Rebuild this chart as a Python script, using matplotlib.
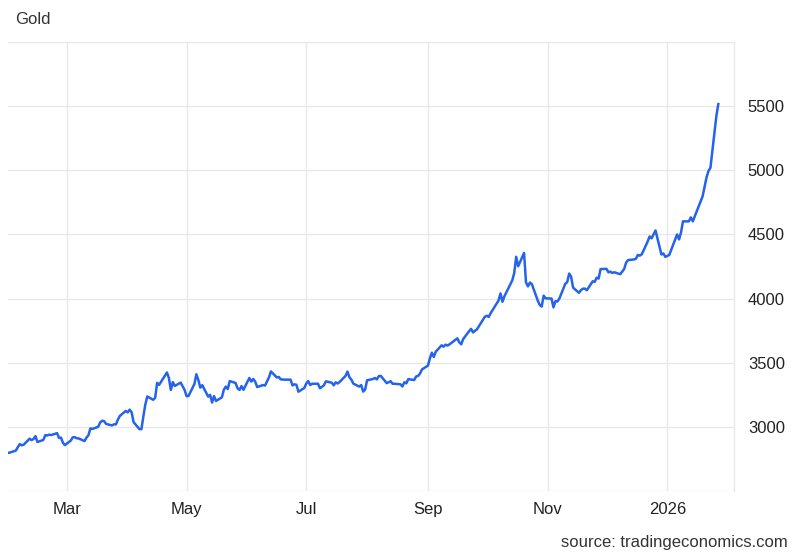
import pandas as pd
import matplotlib.pyplot as plt
import matplotlib.dates as mdates

plt.rcParams['font.family'] = ['Liberation Sans', 'DejaVu Sans']

# gold price, USD/t.oz
dates = [
    "2025-01-30", "2025-01-31", "2025-02-03", "2025-02-04", "2025-02-05", "2025-02-06", "2025-02-07",
    "2025-02-10", "2025-02-11", "2025-02-12", "2025-02-13", "2025-02-14", "2025-02-17", "2025-02-18",
    "2025-02-19", "2025-02-20", "2025-02-21", "2025-02-24", "2025-02-25", "2025-02-26", "2025-02-27",
    "2025-02-28", "2025-03-03", "2025-03-04", "2025-03-05", "2025-03-06", "2025-03-07", "2025-03-10",
    "2025-03-11", "2025-03-12", "2025-03-13", "2025-03-14", "2025-03-17", "2025-03-18", "2025-03-19",
    "2025-03-20", "2025-03-21", "2025-03-24", "2025-03-25", "2025-03-26", "2025-03-27", "2025-03-28",
    "2025-03-31", "2025-04-01", "2025-04-02", "2025-04-03", "2025-04-04", "2025-04-07", "2025-04-08",
    "2025-04-09", "2025-04-10", "2025-04-11", "2025-04-14", "2025-04-15", "2025-04-16", "2025-04-17",
    "2025-04-21", "2025-04-22", "2025-04-23", "2025-04-24", "2025-04-25", "2025-04-28", "2025-04-29",
    "2025-04-30", "2025-05-01", "2025-05-02", "2025-05-05", "2025-05-06", "2025-05-07", "2025-05-08",
    "2025-05-09", "2025-05-12", "2025-05-13", "2025-05-14", "2025-05-15", "2025-05-16", "2025-05-19",
    "2025-05-20", "2025-05-21", "2025-05-22", "2025-05-23", "2025-05-26", "2025-05-27", "2025-05-28",
    "2025-05-29", "2025-05-30", "2025-06-02", "2025-06-03", "2025-06-04", "2025-06-05", "2025-06-06",
    "2025-06-09", "2025-06-10", "2025-06-11", "2025-06-12", "2025-06-13", "2025-06-16", "2025-06-17",
    "2025-06-18", "2025-06-19", "2025-06-20", "2025-06-23", "2025-06-24", "2025-06-25", "2025-06-26",
    "2025-06-27", "2025-06-30", "2025-07-01", "2025-07-02", "2025-07-03", "2025-07-04", "2025-07-07",
    "2025-07-08", "2025-07-09", "2025-07-10", "2025-07-11", "2025-07-14", "2025-07-15", "2025-07-16",
    "2025-07-17", "2025-07-18", "2025-07-21", "2025-07-22", "2025-07-23", "2025-07-24", "2025-07-25",
    "2025-07-28", "2025-07-29", "2025-07-30", "2025-07-31", "2025-08-01", "2025-08-04", "2025-08-05",
    "2025-08-06", "2025-08-07", "2025-08-08", "2025-08-11", "2025-08-12", "2025-08-13", "2025-08-14",
    "2025-08-15", "2025-08-18", "2025-08-19", "2025-08-20", "2025-08-21", "2025-08-22", "2025-08-25",
    "2025-08-26", "2025-08-27", "2025-08-28", "2025-08-29", "2025-09-01", "2025-09-02", "2025-09-03",
    "2025-09-04", "2025-09-05", "2025-09-08", "2025-09-09", "2025-09-10", "2025-09-11", "2025-09-12",
    "2025-09-15", "2025-09-16", "2025-09-17", "2025-09-18", "2025-09-19", "2025-09-22", "2025-09-23",
    "2025-09-24", "2025-09-25", "2025-09-26", "2025-09-29", "2025-09-30", "2025-10-01", "2025-10-02",
    "2025-10-03", "2025-10-06", "2025-10-07", "2025-10-08", "2025-10-09", "2025-10-10", "2025-10-13",
    "2025-10-14", "2025-10-15", "2025-10-16", "2025-10-17", "2025-10-20", "2025-10-21", "2025-10-22",
    "2025-10-23", "2025-10-24", "2025-10-27", "2025-10-28", "2025-10-29", "2025-10-30", "2025-10-31",
    "2025-11-03", "2025-11-04", "2025-11-05", "2025-11-06", "2025-11-07", "2025-11-10", "2025-11-11",
    "2025-11-12", "2025-11-13", "2025-11-14", "2025-11-17", "2025-11-18", "2025-11-19", "2025-11-20",
    "2025-11-21", "2025-11-24", "2025-11-25", "2025-11-26", "2025-11-27", "2025-11-28", "2025-12-01",
    "2025-12-02", "2025-12-03", "2025-12-04", "2025-12-05", "2025-12-08", "2025-12-09", "2025-12-10",
    "2025-12-11", "2025-12-12", "2025-12-15", "2025-12-16", "2025-12-17", "2025-12-18", "2025-12-19",
    "2025-12-22", "2025-12-23", "2025-12-24", "2025-12-26", "2025-12-29", "2025-12-30", "2025-12-31",
    "2026-01-02", "2026-01-05", "2026-01-06", "2026-01-07", "2026-01-08", "2026-01-09", "2026-01-12",
    "2026-01-13", "2026-01-14", "2026-01-15", "2026-01-16", "2026-01-19", "2026-01-20", "2026-01-21",
    "2026-01-22", "2026-01-23", "2026-01-26", "2026-01-27",
]
prices = [
    2797, 2800, 2815, 2842, 2866, 2856, 2861,
    2908, 2897, 2905, 2928, 2882, 2898, 2935,
    2933, 2939, 2936, 2951, 2914, 2916, 2876,
    2858, 2893, 2918, 2920, 2911, 2910, 2889,
    2916, 2935, 2988, 2984, 3001, 3035, 3048,
    3044, 3023, 3011, 3020, 3019, 3057, 3085,
    3124, 3113, 3134, 3114, 3037, 2982, 2982,
    3083, 3175, 3237, 3211, 3226, 3343, 3327,
    3424, 3381, 3288, 3349, 3319, 3345, 3317,
    3288, 3239, 3241, 3334, 3410, 3366, 3306,
    3325, 3236, 3250, 3190, 3240, 3202, 3230,
    3290, 3314, 3295, 3357, 3342, 3300, 3288,
    3318, 3289, 3381, 3353, 3373, 3352, 3310,
    3326, 3322, 3354, 3386, 3432, 3385, 3389,
    3370, 3369, 3368, 3368, 3323, 3332, 3328,
    3274, 3303, 3338, 3357, 3326, 3336, 3336,
    3301, 3313, 3324, 3355, 3344, 3324, 3347,
    3338, 3350, 3397, 3431, 3387, 3368, 3337,
    3314, 3326, 3275, 3290, 3363, 3373, 3381,
    3370, 3396, 3397, 3341, 3348, 3356, 3336,
    3336, 3332, 3315, 3348, 3339, 3372, 3365,
    3393, 3397, 3416, 3448, 3477, 3533, 3578,
    3545, 3586, 3636, 3625, 3641, 3634, 3643,
    3679, 3690, 3659, 3644, 3685, 3746, 3764,
    3736, 3749, 3760, 3833, 3858, 3866, 3857,
    3887, 3960, 3985, 4040, 3975, 4018, 4110,
    4142, 4200, 4326, 4252, 4356, 4125, 4095,
    4125, 4112, 3984, 3950, 3938, 4023, 4002,
    4000, 3932, 3980, 3977, 4000, 4115, 4128,
    4195, 4170, 4085, 4045, 4066, 4077, 4078,
    4065, 4135, 4130, 4163, 4156, 4230, 4232,
    4205, 4210, 4200, 4205, 4190, 4210, 4230,
    4280, 4300, 4305, 4310, 4340, 4335, 4345,
    4445, 4484, 4470, 4531, 4344, 4352, 4325,
    4340, 4461, 4500, 4461, 4516, 4602, 4602,
    4633, 4602, 4640, 4680, 4797, 4870, 4945,
    4995, 5020, 5422, 5516,
]

tick_dates = ["2025-03-01", "2025-05-01", "2025-07-01", "2025-09-01", "2025-11-01", "2026-01-01"]
tick_labels = ["Mar", "May", "Jul", "Sep", "Nov", "2026"]
y_ticks = [2500, 3000, 3500, 4000, 4500, 5000, 5500, 6000]
y_labels = ["", "3000", "3500", "4000", "4500", "5000", "5500", ""]

x = pd.to_datetime(dates)

fig = plt.figure(figsize=(8, 5.55), dpi=100)
ax = fig.add_axes([0.01, 0.1153, 0.9075, 0.809])

ax.plot(x, prices, color='#2563eb', linewidth=1.8, solid_joinstyle='round')

ax.set_xlim(pd.Timestamp("2025-01-30"), pd.Timestamp("2026-02-04"))
ax.set_ylim(2500, 6000)

ax.set_xticks(pd.to_datetime(tick_dates))
ax.set_xticklabels(tick_labels)
ax.set_yticks(y_ticks)
ax.set_yticklabels(y_labels)
ax.yaxis.tick_right()

ax.grid(True, color='#e8e8e8', linewidth=1)
ax.set_axisbelow(True)
for side in ['top', 'left', 'bottom']:
    ax.spines[side].set_visible(False)
ax.spines['right'].set_color('#e8e8e8')
ax.spines['right'].set_linewidth(1)

ax.tick_params(axis='both', length=0, labelsize=12, labelcolor='#222222')
ax.tick_params(axis='y', pad=10)
ax.tick_params(axis='x', pad=8)

fig.text(0.019, 0.964, "Gold", fontsize=12, color='#333333', va='center', ha='left')
fig.text(0.985, 0.023, "source: tradingeconomics.com", fontsize=12, color='#333333',
         va='center', ha='right')

fig.savefig("out.png", dpi=100)
